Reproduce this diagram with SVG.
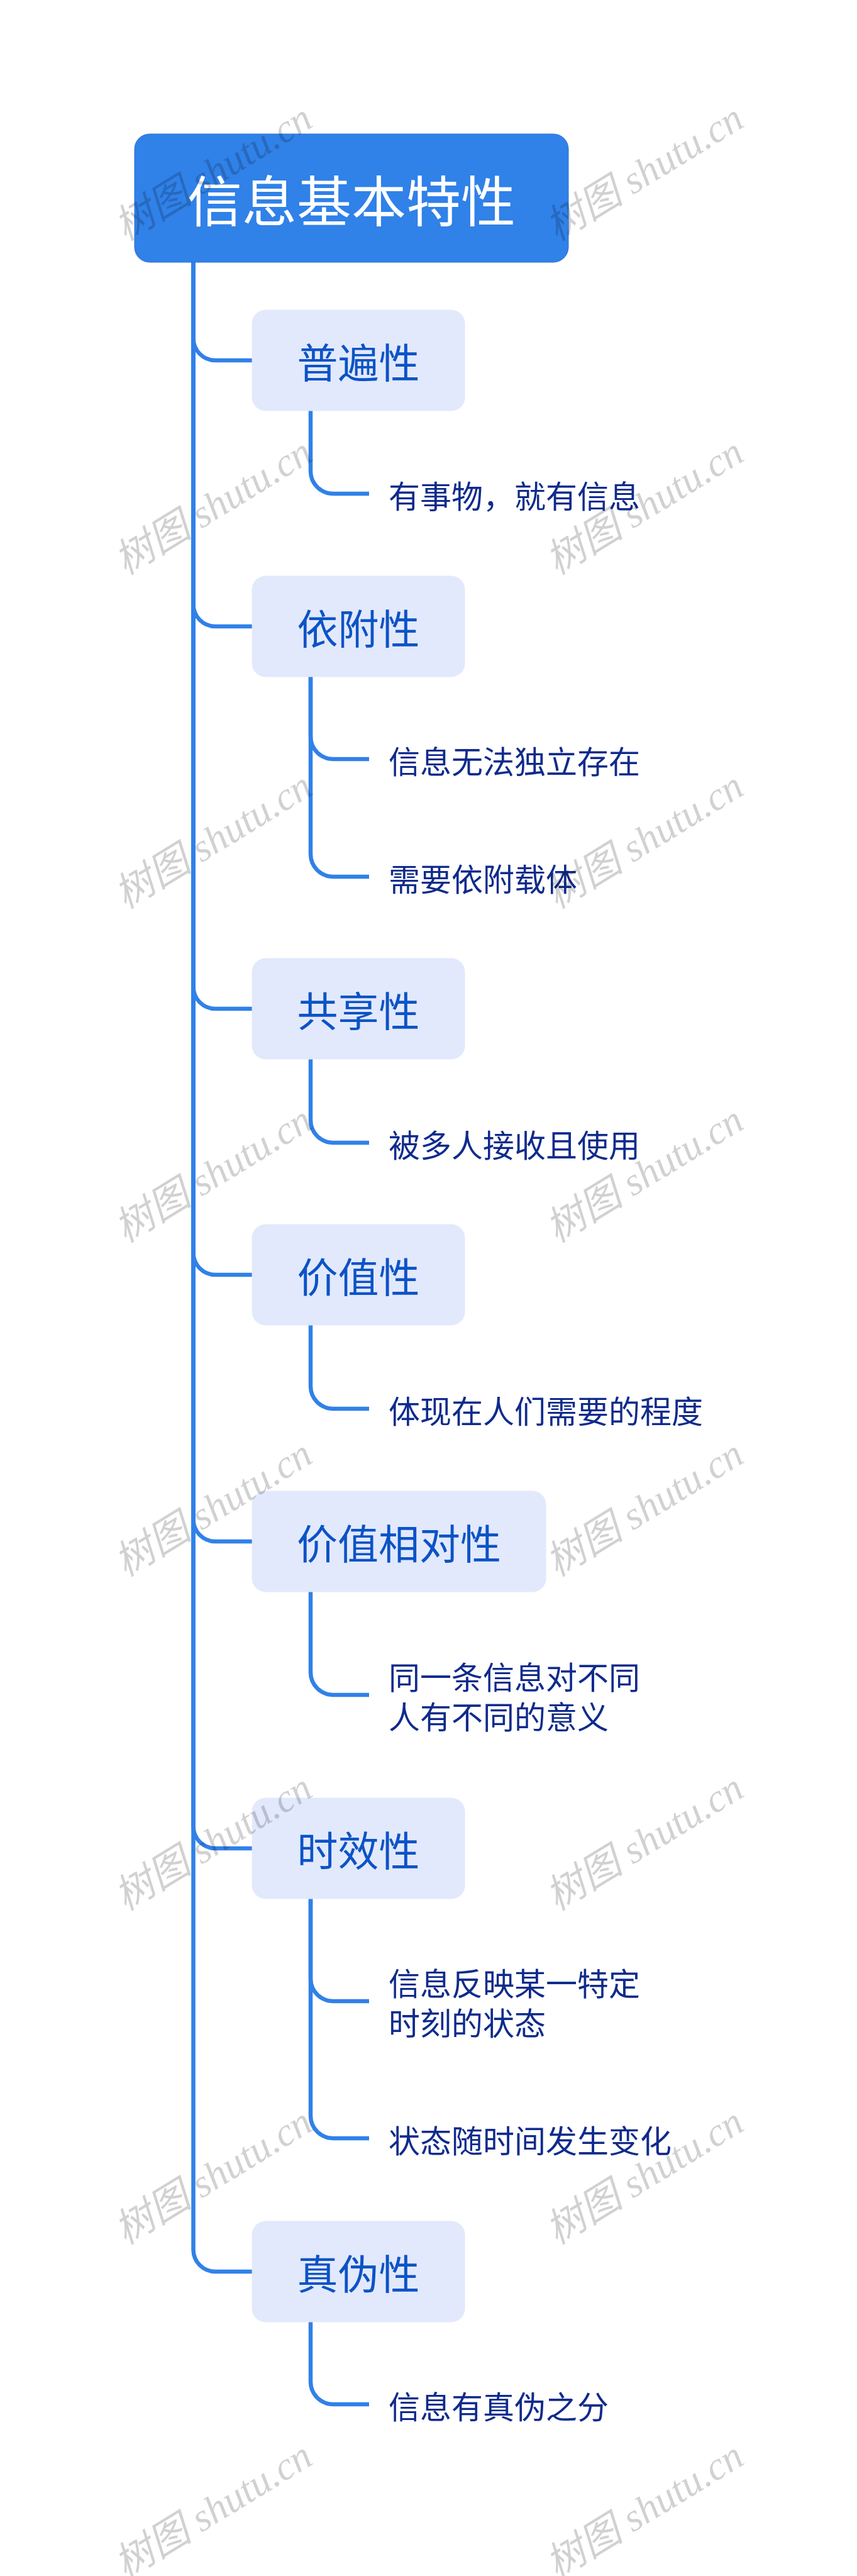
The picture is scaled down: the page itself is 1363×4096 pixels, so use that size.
<svg xmlns="http://www.w3.org/2000/svg" width="1363" height="4096" viewBox="0 0 1363 4096">
<style>
.root{fill:#3081e8;stroke:#2b72d4;stroke-width:1}
.rt{font-family:"Noto Sans CJK SC","Noto Sans",sans-serif;font-size:87px;fill:#ffffff;text-anchor:middle;dominant-baseline:central}
.br{fill:#e2e9fc}
.bt{font-family:"Noto Sans CJK SC","Noto Sans",sans-serif;font-size:65px;fill:#0c53c6;text-anchor:middle;dominant-baseline:central}
.lt{font-family:"Noto Sans CJK SC","Noto Sans",sans-serif;font-size:50px;fill:#0f2b8c;dominant-baseline:central}
.cn{fill:none;stroke:#3081e8;stroke-width:6.5}
.wm{font-family:"Liberation Serif","Noto Sans CJK SC",serif;font-style:italic;font-size:63px;fill:#000000;fill-opacity:0.18;text-anchor:middle;dominant-baseline:central}
</style>
<rect width="1363" height="4096" fill="#ffffff"/>
<g id="connectors">
<path class="cn" d="M307.5 417 V538 A35 35 0 0 0 342.5 573 H401"/>
<path class="cn" d="M307.5 417 V961 A35 35 0 0 0 342.5 996 H401"/>
<path class="cn" d="M307.5 417 V1569 A35 35 0 0 0 342.5 1604 H401"/>
<path class="cn" d="M307.5 417 V1992 A35 35 0 0 0 342.5 2027 H401"/>
<path class="cn" d="M307.5 417 V2416 A35 35 0 0 0 342.5 2451 H401"/>
<path class="cn" d="M307.5 417 V2904 A35 35 0 0 0 342.5 2939 H401"/>
<path class="cn" d="M307.5 417 V3577 A35 35 0 0 0 342.5 3612 H401"/>
<path class="cn" d="M494 653 V749 A36 36 0 0 0 530 785 H587"/>
<path class="cn" d="M494 1076 V1171 A36 36 0 0 0 530 1207 H587"/>
<path class="cn" d="M494 1076 V1358 A36 36 0 0 0 530 1394 H587"/>
<path class="cn" d="M494 1684 V1781 A36 36 0 0 0 530 1817 H587"/>
<path class="cn" d="M494 2107 V2204 A36 36 0 0 0 530 2240 H587"/>
<path class="cn" d="M494 2531 V2659 A36 36 0 0 0 530 2695 H587"/>
<path class="cn" d="M494 3019 V3146 A36 36 0 0 0 530 3182 H587"/>
<path class="cn" d="M494 3019 V3364 A36 36 0 0 0 530 3400 H587"/>
<path class="cn" d="M494 3692 V3787 A36 36 0 0 0 530 3823 H587"/>
</g>
<g id="root"><rect class="root" x="214" y="213" width="690" height="204" rx="24"/><text class="rt" x="559" y="315">信息基本特性</text></g>
<g id="b1"><rect class="br" x="400.6" y="492.5" width="339" height="161" rx="22"/><text class="bt" x="570" y="573">普遍性</text></g>
<g id="b2"><rect class="br" x="400.6" y="915.5" width="339" height="161" rx="22"/><text class="bt" x="570" y="996">依附性</text></g>
<g id="b3"><rect class="br" x="400.6" y="1523.5" width="339" height="161" rx="22"/><text class="bt" x="570" y="1604">共享性</text></g>
<g id="b4"><rect class="br" x="400.6" y="1946.5" width="339" height="161" rx="22"/><text class="bt" x="570" y="2027">价值性</text></g>
<g id="b5"><rect class="br" x="400.6" y="2370.5" width="468" height="161" rx="22"/><text class="bt" x="634.6" y="2451">价值相对性</text></g>
<g id="b6"><rect class="br" x="400.6" y="2858.5" width="339" height="161" rx="22"/><text class="bt" x="570" y="2939">时效性</text></g>
<g id="b7"><rect class="br" x="400.6" y="3531.5" width="339" height="161" rx="22"/><text class="bt" x="570" y="3612">真伪性</text></g>
<g id="l1"><text class="lt" x="618" y="786">有事物，就有信息</text></g>
<g id="l2"><text class="lt" x="618" y="1208">信息无法独立存在</text></g>
<g id="l3"><text class="lt" x="618" y="1395">需要依附载体</text></g>
<g id="l4"><text class="lt" x="618" y="1818">被多人接收且使用</text></g>
<g id="l5"><text class="lt" x="618" y="2241">体现在人们需要的程度</text></g>
<g id="l6"><text class="lt" x="618" y="2664">同一条信息对不同</text><text class="lt" x="618" y="2727">人有不同的意义</text></g>
<g id="l7"><text class="lt" x="618" y="3151">信息反映某一特定</text><text class="lt" x="618" y="3214">时刻的状态</text></g>
<g id="l8"><text class="lt" x="618" y="3401">状态随时间发生变化</text></g>
<g id="l9"><text class="lt" x="618" y="3824">信息有真伪之分</text></g>
<g id="watermark">
<text class="wm" transform="translate(339 274) rotate(-31.5)">树图 shutu.cn</text>
<text class="wm" transform="translate(1025 274) rotate(-31.5)">树图 shutu.cn</text>
<text class="wm" transform="translate(339 805) rotate(-31.5)">树图 shutu.cn</text>
<text class="wm" transform="translate(1025 805) rotate(-31.5)">树图 shutu.cn</text>
<text class="wm" transform="translate(339 1336) rotate(-31.5)">树图 shutu.cn</text>
<text class="wm" transform="translate(1025 1336) rotate(-31.5)">树图 shutu.cn</text>
<text class="wm" transform="translate(339 1867) rotate(-31.5)">树图 shutu.cn</text>
<text class="wm" transform="translate(1025 1867) rotate(-31.5)">树图 shutu.cn</text>
<text class="wm" transform="translate(339 2398) rotate(-31.5)">树图 shutu.cn</text>
<text class="wm" transform="translate(1025 2398) rotate(-31.5)">树图 shutu.cn</text>
<text class="wm" transform="translate(339 2929) rotate(-31.5)">树图 shutu.cn</text>
<text class="wm" transform="translate(1025 2929) rotate(-31.5)">树图 shutu.cn</text>
<text class="wm" transform="translate(339 3460) rotate(-31.5)">树图 shutu.cn</text>
<text class="wm" transform="translate(1025 3460) rotate(-31.5)">树图 shutu.cn</text>
<text class="wm" transform="translate(339 3991) rotate(-31.5)">树图 shutu.cn</text>
<text class="wm" transform="translate(1025 3991) rotate(-31.5)">树图 shutu.cn</text>
</g>
</svg>
